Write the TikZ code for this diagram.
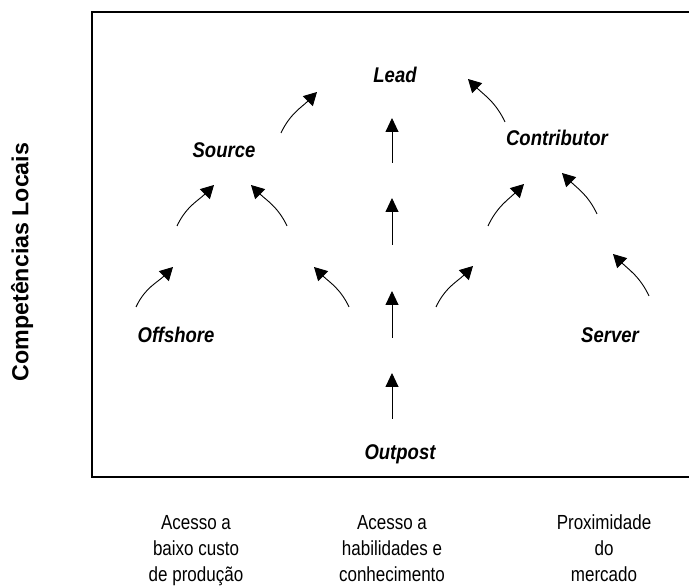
\documentclass[tikz,border=0pt]{standalone}
\usepackage{fontspec}
\setmainfont{Liberation Sans}
\usetikzlibrary{arrows.meta}

% labels are set slightly taller than the plain face
\newcommand{\tallstage}[1]{\scalebox{1}[1.15]{#1}}
\newcommand{\talldriver}[1]{\scalebox{1}[1.2]{\begin{tabular}{@{}c@{}}#1\end{tabular}}}

\begin{document}
\begin{tikzpicture}[x=1pt,y=1pt,
  stage/.style={font=\fontsize{18.5}{22}\selectfont\bfseries\itshape, inner sep=0pt},
  driver/.style={font=\fontsize{17}{21.7}\selectfont, inner sep=0pt},
  axislabel/.style={font=\fontsize{23.2}{26}\selectfont\bfseries, rotate=90, inner sep=0pt},
  move/.style={line width=0.9pt, -{Triangle[length=13pt,width=14pt]}},
  upmove/.style={line width=0.9pt, -{Triangle[length=14pt,width=13pt]}},
  rightup/.style={move, out=65, in=-135},
  leftup/.style={move, out=115, in=-45},
  frame/.style={line width=1.5pt}]

  % page extent
  \useasboundingbox (0,0) rectangle (689,587);

  % open frame: left, top and bottom sides
  \coordinate (fTR) at (692,575);
  \coordinate (fTL) at (92,575);
  \coordinate (fBL) at (92,110);
  \coordinate (fBR) at (692,110);
  \draw[frame] (fTR) -- (fTL) -- (fBL) -- (fBR);

  % role labels
  \node[stage] (lead)   at (395,512) {\tallstage{Lead}};
  \node[stage] (source) at (224,437) {\tallstage{Source}};
  \node[stage] (contr)  at (557,449) {\tallstage{Contributor}};
  \node[stage] (offsh)  at (176,252) {\tallstage{Offshore}};
  \node[stage] (server) at (610,252) {\tallstage{Server}};
  \node[stage] (outp)   at (400,133) {\tallstage{Outpost}};

  % vertical axis label
  \node[axislabel] (ylab) at (22,325) {Competências Locais};

  % location drivers under the frame
  \node[driver] (d1) at (196,37) {\talldriver{Acesso a\\baixo custo\\de produção}};
  \node[driver] (d2) at (392,37) {\talldriver{Acesso a\\habilidades e\\conhecimento}};
  \node[driver] (d3) at (604,37) {\talldriver{Proximidade\\do\\mercado}};

  % arrow end points
  \coordinate (a1s) at (136,280); \coordinate (a1e) at (173,320);
  \coordinate (a2s) at (177,361); \coordinate (a2e) at (214,402);
  \coordinate (a3s) at (349,280); \coordinate (a3e) at (314,320);
  \coordinate (a4s) at (287,361); \coordinate (a4e) at (251,402);
  \coordinate (a5s) at (281,454); \coordinate (a5e) at (317,495);
  \coordinate (a6s) at (505,465); \coordinate (a6e) at (468,508);
  \coordinate (a7s) at (436,280); \coordinate (a7e) at (473,321);
  \coordinate (a8s) at (488,361); \coordinate (a8e) at (524,403);
  \coordinate (a9s) at (649,291); \coordinate (a9e) at (613,333);
  \coordinate (a10s) at (597,373); \coordinate (a10e) at (562,414);
  \coordinate (v1s) at (392,168); \coordinate (v1e) at (392,214);
  \coordinate (v2s) at (392,249); \coordinate (v2e) at (392,296);
  \coordinate (v3s) at (392,342); \coordinate (v3e) at (392,389);
  \coordinate (v4s) at (392,424); \coordinate (v4e) at (392,469);

  % curved evolution arrows
  \draw[rightup] (a1s) to (a1e);
  \draw[rightup] (a2s) to (a2e);
  \draw[leftup]  (a3s) to (a3e);
  \draw[leftup]  (a4s) to (a4e);
  \draw[rightup] (a5s) to (a5e);
  \draw[leftup]  (a6s) to (a6e);
  \draw[rightup] (a7s) to (a7e);
  \draw[rightup] (a8s) to (a8e);
  \draw[leftup]  (a9s) to (a9e);
  \draw[leftup]  (a10s) to (a10e);

  % straight arrows from Outpost to Lead
  \draw[upmove] (v1s) -- (v1e);
  \draw[upmove] (v2s) -- (v2e);
  \draw[upmove] (v3s) -- (v3e);
  \draw[upmove] (v4s) -- (v4e);
\end{tikzpicture}
\end{document}
